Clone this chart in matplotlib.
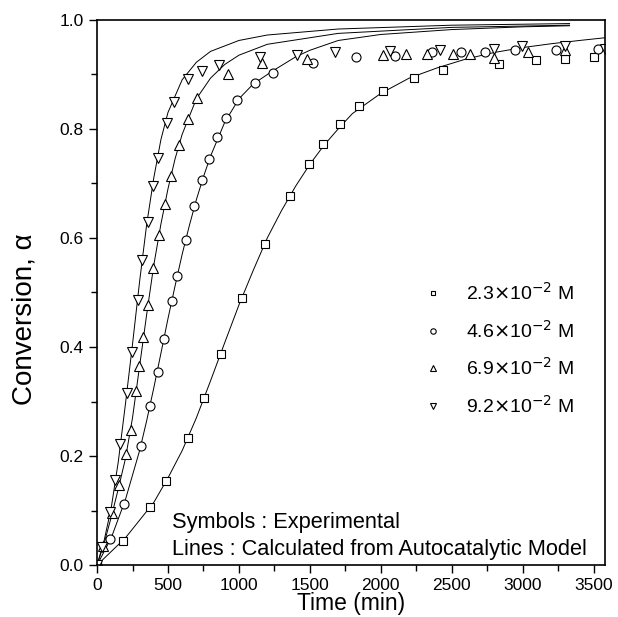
import matplotlib
matplotlib.use("Agg")
import matplotlib.pyplot as plt
from matplotlib.ticker import MultipleLocator

plt.rcParams['font.family'] = ['Liberation Sans', 'DejaVu Sans']

# experimental points
t_sq = [0, 183, 373, 488, 643, 754, 871, 1021, 1185, 1359, 1491, 1592, 1714, 1845,
        2012, 2235, 2441, 2833, 3096, 3296, 3500]
a_sq = [0, 0.045, 0.106, 0.155, 0.233, 0.306, 0.388, 0.49, 0.588, 0.677, 0.735, 0.772,
        0.809, 0.842, 0.870, 0.894, 0.907, 0.919, 0.926, 0.928, 0.931]

t_ci = [0, 89, 192, 307, 376, 427, 472, 526, 566, 627, 683, 737, 786, 847, 908, 984,
        1113, 1237, 1523, 1824, 2099, 2364, 2568, 2732, 2943, 3237, 3530]
a_ci = [0, 0.048, 0.113, 0.218, 0.292, 0.355, 0.415, 0.485, 0.531, 0.597, 0.658, 0.706,
        0.745, 0.785, 0.819, 0.852, 0.884, 0.902, 0.921, 0.931, 0.934, 0.941, 0.941,
        0.941, 0.944, 0.944, 0.946]

t_up = [0, 40, 108, 155, 207, 237, 275, 298, 326, 361, 392, 439, 479, 521, 577, 638,
        706, 924, 1160, 1481, 2012, 2174, 2322, 2509, 2631, 2796, 3037, 3296]
a_up = [0, 0.035, 0.095, 0.147, 0.203, 0.248, 0.319, 0.366, 0.419, 0.477, 0.545, 0.606,
        0.663, 0.714, 0.771, 0.818, 0.856, 0.901, 0.92, 0.928, 0.936, 0.938, 0.938,
        0.938, 0.938, 0.93, 0.941, 0.945]

t_dn = [0, 38, 89, 124, 164, 209, 244, 286, 319, 357, 397, 427, 491, 542, 643, 737,
        859, 1148, 1406, 1676, 2068, 2415, 2796, 2998, 3296, 3577]
a_dn = [0, 0.034, 0.097, 0.156, 0.223, 0.315, 0.39, 0.487, 0.56, 0.63, 0.695, 0.746,
        0.811, 0.850, 0.891, 0.906, 0.917, 0.931, 0.936, 0.94, 0.942, 0.944, 0.947,
        0.951, 0.952, 0.947]

# model curves
lt_sq = [0, 200, 400, 500, 600, 700, 800, 900, 1000, 1100, 1200, 1300, 1400, 1500, 1600,
         1700, 1800, 2000, 2200, 2400, 2600, 2800, 3000, 3200, 3400, 3580]
la_sq = [0, 0.05, 0.115, 0.16, 0.21, 0.27, 0.338, 0.408, 0.477, 0.54, 0.60, 0.65, 0.695,
         0.735, 0.77, 0.80, 0.828, 0.865, 0.893, 0.912, 0.928, 0.94, 0.949, 0.956, 0.962, 0.967]

lt_ci = [0, 100, 200, 300, 350, 400, 450, 500, 550, 600, 650, 700, 750, 800, 900, 1000,
         1100, 1237, 1400, 1500, 1700, 2000, 2500, 3000, 3330]
la_ci = [0, 0.05, 0.12, 0.21, 0.265, 0.325, 0.388, 0.452, 0.512, 0.57, 0.622, 0.67, 0.712,
         0.75, 0.812, 0.855, 0.882, 0.906, 0.932, 0.944, 0.962, 0.973, 0.982, 0.987, 0.989]

lt_up = [0, 50, 100, 150, 200, 250, 300, 350, 400, 450, 500, 550, 600, 700, 800, 900,
         1000, 1200, 1700, 2500, 3330]
la_up = [0, 0.04, 0.088, 0.14, 0.195, 0.27, 0.365, 0.46, 0.55, 0.625, 0.69, 0.745, 0.79,
         0.855, 0.893, 0.918, 0.935, 0.955, 0.975, 0.986, 0.99]

lt_dn = [0, 50, 100, 150, 200, 250, 300, 350, 400, 450, 500, 600, 700, 800, 1000, 1200,
         1700, 2500, 3330]
la_dn = [0, 0.045, 0.105, 0.19, 0.295, 0.405, 0.52, 0.625, 0.71, 0.78, 0.83, 0.89, 0.922,
         0.942, 0.962, 0.972, 0.983, 0.99, 0.993]

labels = [r'2.3$\times$10$^{-2}$ M', r'4.6$\times$10$^{-2}$ M',
          r'6.9$\times$10$^{-2}$ M', r'9.2$\times$10$^{-2}$ M']

fig = plt.figure(figsize=(6.18, 6.17), dpi=100)
ax = fig.add_axes([0.157, 0.084, 0.822, 0.884])

for lt, la in [(lt_sq, la_sq), (lt_ci, la_ci), (lt_up, la_up), (lt_dn, la_dn)]:
    ax.plot(lt, la, color='black', lw=0.7)

mk = dict(mfc='white', mec='black', mew=0.8, ls='none')
ax.plot(t_sq, a_sq, marker='s', ms=5.5, label=labels[0], **mk)
ax.plot(t_ci, a_ci, marker='o', ms=6.5, label=labels[1], **mk)
ax.plot(t_up, a_up, marker='^', ms=7, label=labels[2], **mk)
ax.plot(t_dn, a_dn, marker='v', ms=7, label=labels[3], **mk)

ax.set_xlim(0, 3580)
ax.set_ylim(0, 1.0)
ax.xaxis.set_major_locator(MultipleLocator(500))
ax.xaxis.set_minor_locator(MultipleLocator(250))
ax.yaxis.set_major_locator(MultipleLocator(0.2))
ax.yaxis.set_minor_locator(MultipleLocator(0.1))
ax.yaxis.set_major_formatter(plt.FormatStrFormatter('%.1f'))
ax.tick_params(which='both', direction='out', top=False, right=False, labelsize=12.5)
ax.tick_params(which='major', length=6, width=1)
ax.tick_params(which='minor', length=4, width=1)
ax.tick_params(axis='x', pad=3)
for s in ax.spines.values():
    s.set_linewidth(1.2)

fig.text(0.5 * (0.157 + 0.979), 0.003, 'Time (min)', fontsize=16.5, ha='center', va='bottom')
fig.text(0.040, 0.483, 'Conversion, α', fontsize=20, rotation=90, ha='center', va='center')

leg = ax.legend(loc='upper left', bbox_to_anchor=(0.608, 0.551), frameon=False,
                fontsize=14, handlelength=1.0, handletextpad=1.2, labelspacing=0.8,
                markerscale=0.6)

ax.text(0.148, 0.079, 'Symbols : Experimental', transform=ax.transAxes,
        fontsize=15.7, va='center')
ax.text(0.148, 0.029, 'Lines : Calculated from Autocatalytic Model',
        transform=ax.transAxes, fontsize=15.7, va='center')

fig.savefig('out.png', dpi=100)
